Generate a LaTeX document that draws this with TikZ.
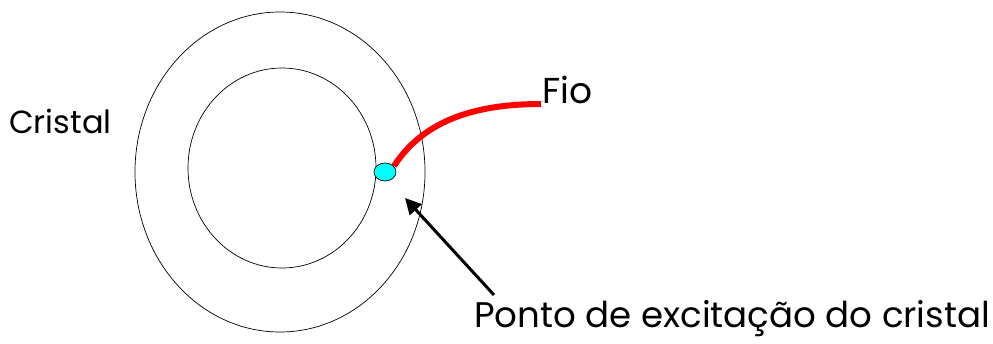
\documentclass[tikz,border=0pt]{standalone}
\usepackage{fontspec}
\setmainfont{Poppins}
\usetikzlibrary{shapes.geometric,arrows.meta}
\definecolor{dotcyan}{RGB}{0,255,255}
\begin{document}
\begin{tikzpicture}[x=1pt,y=-1pt,
  ring/.style={draw=black,line width=0.7pt,ellipse,inner sep=0pt},
  lbl/.style={inner sep=0pt,anchor=base west},
  wire/.style={draw=red,line width=6pt},
  arr/.style={draw=black,line width=3pt,-{Triangle[length=16pt,width=16pt]}}]
\useasboundingbox (0,0) rectangle (993,343);
\node[ring,minimum width=290pt,minimum height=320pt] (outer) at (280,172) {};
\node[ring,minimum width=188pt,minimum height=200pt] (inner) at (282,168) {};
\node[lbl,font=\fontsize{32}{36}\selectfont] (cristal) at (9,133) {Cristal};
\node[lbl,font=\fontsize{36}{40}\selectfont] (fio) at (542,103) {Fio};
\node[lbl,font=\fontsize{35.6}{40}\selectfont] (ponto) at (474,327) {Ponto de excitação do cristal};
\coordinate (wend) at (541,104);
\coordinate (tip) at (405,198);
\coordinate (tail) at (494,295);
\draw[wire] (394,166) .. controls (425,118) and (480,104) .. (wend);
\node[draw=black,line width=0.7pt,fill=dotcyan,ellipse,inner sep=0pt,minimum width=22pt,minimum height=18pt] (dot) at (385,172) {};
\draw[arr] (tail) -- (tip);
\end{tikzpicture}
\end{document}
